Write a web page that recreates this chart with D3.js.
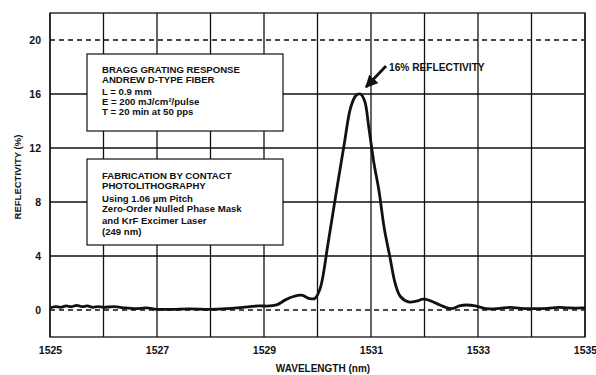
<!DOCTYPE html>
<html>
<head>
<meta charset="utf-8">
<script src="https://cdn.jsdelivr.net/npm/d3@7"></script>
<style>
  body { margin: 0; background: #fff; }
  svg { font-family: "Liberation Sans", Arial, sans-serif; font-weight: bold; }
</style>
</head>
<body>
<div id="chart"></div>
<script>
const wavelength = [1525.0, 1525.1, 1525.2, 1525.3, 1525.4, 1525.5, 1525.6, 1525.7, 1525.8, 1525.9,
  1526.0, 1526.2, 1526.4, 1526.6, 1526.8, 1527.0, 1527.3, 1527.6, 1528.0, 1528.3, 1528.6, 1528.9,
  1529.1, 1529.25, 1529.4, 1529.55, 1529.7, 1529.85, 1529.95, 1530.05, 1530.2, 1530.35, 1530.5,
  1530.62, 1530.72, 1530.8, 1530.88, 1530.96, 1531.05, 1531.15, 1531.25, 1531.35, 1531.45, 1531.55,
  1531.7, 1531.85, 1531.97, 1532.1, 1532.3, 1532.5, 1532.65, 1532.78, 1532.95, 1533.15, 1533.4,
  1533.6, 1533.8, 1534.0, 1534.3, 1534.5, 1534.7, 1535.0];
const reflectivity = [0.15, 0.25, 0.2, 0.3, 0.25, 0.35, 0.25, 0.3, 0.2, 0.25,
  0.2, 0.25, 0.15, 0.1, 0.15, 0.05, 0.05, 0.08, 0.05, 0.1, 0.2, 0.3,
  0.3, 0.4, 0.75, 1.0, 1.1, 0.85, 0.85, 1.6, 5.0, 8.7, 12.3,
  15.0, 15.9, 16.0, 15.5, 13.5, 11.0, 8.8, 6.0, 4.0, 2.0, 1.0,
  0.6, 0.65, 0.8, 0.7, 0.35, 0.1, 0.3, 0.37, 0.3, 0.1, 0.12,
  0.2, 0.12, 0.1, 0.12, 0.2, 0.15, 0.15];

const xTicks = [1525, 1527, 1529, 1531, 1533, 1535];
const xGrid = d3.range(1525, 1536, 1);
const yTicks = [0, 4, 8, 12, 16, 20];
const yDashed = [0, 20];

const infoLines = [
  "BRAGG GRATING RESPONSE",
  "ANDREW D-TYPE FIBER",
  "L = 0.9 mm",
  "E = 200 mJ/cm²/pulse",
  "T = 20 min at 50 pps"
];
const fabLines = [
  "FABRICATION BY CONTACT",
  "PHOTOLITHOGRAPHY",
  "Using 1.06 µm Pitch",
  "Zero-Order Nulled Phase Mask",
  "and KrF Excimer Laser",
  "(249 nm)"
];

const W = 596, H = 375;
const margin = { top: 13, right: 11, bottom: 38, left: 50 };

const svg = d3.select("#chart").append("svg")
  .attr("width", W)
  .attr("height", H);

const x = d3.scaleLinear().domain([1525, 1535]).range([margin.left, W - margin.right]);
const y = d3.scaleLinear().domain([-2, 22]).range([H - margin.bottom, margin.top]);

// vertical grid
svg.append("g")
  .selectAll("line")
  .data(xGrid)
  .enter().append("line")
  .attr("x1", d => x(d)).attr("x2", d => x(d))
  .attr("y1", y(-2)).attr("y2", y(22))
  .attr("stroke", "#111").attr("stroke-width", 1.3);

// horizontal grid
svg.append("g")
  .selectAll("line")
  .data(yTicks)
  .enter().append("line")
  .attr("x1", x(1525)).attr("x2", x(1535))
  .attr("y1", d => y(d)).attr("y2", d => y(d))
  .attr("stroke", "#111")
  .attr("stroke-width", 1.3)
  .attr("stroke-dasharray", d => yDashed.includes(d) ? "5,4" : null);

// frame
svg.append("rect")
  .attr("x", x(1525)).attr("y", y(22))
  .attr("width", x(1535) - x(1525))
  .attr("height", y(-2) - y(22))
  .attr("fill", "none").attr("stroke", "#111").attr("stroke-width", 1.3);

// axes labels
svg.append("g")
  .attr("transform", `translate(0,${y(-2)})`)
  .call(d3.axisBottom(x).tickValues(xTicks).tickFormat(d3.format("d")).tickSize(0).tickPadding(10))
  .call(g => g.select(".domain").remove())
  .selectAll("text")
  .style("font-size", "10.5px").style("font-weight", "bold").style("fill", "#111")
  .style("font-family", "Liberation Sans, Arial, sans-serif");

svg.append("g")
  .attr("transform", `translate(${x(1525)},0)`)
  .call(d3.axisLeft(y).tickValues(yTicks).tickSize(0).tickPadding(9))
  .call(g => g.select(".domain").remove())
  .selectAll("text")
  .style("font-size", "10.5px").style("font-weight", "bold").style("fill", "#111")
  .style("font-family", "Liberation Sans, Arial, sans-serif");

svg.append("text")
  .attr("x", 323).attr("y", 372)
  .attr("text-anchor", "middle")
  .style("font-size", "10px").style("fill", "#111")
  .text("WAVELENGTH (nm)");

svg.append("text")
  .attr("transform", "translate(21,177) rotate(-90)")
  .attr("text-anchor", "middle")
  .style("font-size", "9.5px").style("fill", "#111")
  .text("REFLECTIVITY (%)");

// curve
const pts = wavelength.map((w, i) => [w, reflectivity[i]]);
svg.append("path")
  .datum(pts)
  .attr("fill", "none")
  .attr("stroke", "#111")
  .attr("stroke-width", 2.8)
  .attr("stroke-linejoin", "round")
  .attr("d", d3.line().x(d => x(d[0])).y(d => y(d[1])).curve(d3.curveCatmullRom.alpha(0.5)));

// text boxes
function textBox(lines, bx, by, bw, bh, baselines) {
  svg.append("rect")
    .attr("x", bx).attr("y", by).attr("width", bw).attr("height", bh)
    .attr("fill", "#fff").attr("stroke", "#111").attr("stroke-width", 1.2);
  svg.append("g").selectAll("text")
    .data(lines)
    .enter().append("text")
    .attr("x", 102)
    .attr("y", (d, i) => baselines[i])
    .style("font-size", "9.6px").style("fill", "#111")
    .text(d => d);
}
textBox(infoLines, 87, 54, 196, 77, [73, 83, 95, 105, 115]);
textBox(fabLines, 87, 159, 196, 86, [179, 189, 202, 212, 224, 235]);

// annotation arrow
svg.append("defs").append("marker")
  .attr("id", "arrow")
  .attr("viewBox", "0 0 10 10")
  .attr("refX", 9).attr("refY", 5)
  .attr("markerWidth", 4.5).attr("markerHeight", 4.5)
  .attr("orient", "auto")
  .append("path").attr("d", "M0,0L10,5L0,10Z").attr("fill", "#111");

svg.append("line")
  .attr("x1", 386).attr("y1", 66)
  .attr("x2", 366).attr("y2", 87)
  .attr("stroke", "#111").attr("stroke-width", 2.8)
  .attr("marker-end", "url(#arrow)");

svg.append("text")
  .attr("x", 389).attr("y", 71)
  .style("font-size", "10.2px").style("fill", "#111")
  .text("16% REFLECTIVITY");
</script>
</body>
</html>
